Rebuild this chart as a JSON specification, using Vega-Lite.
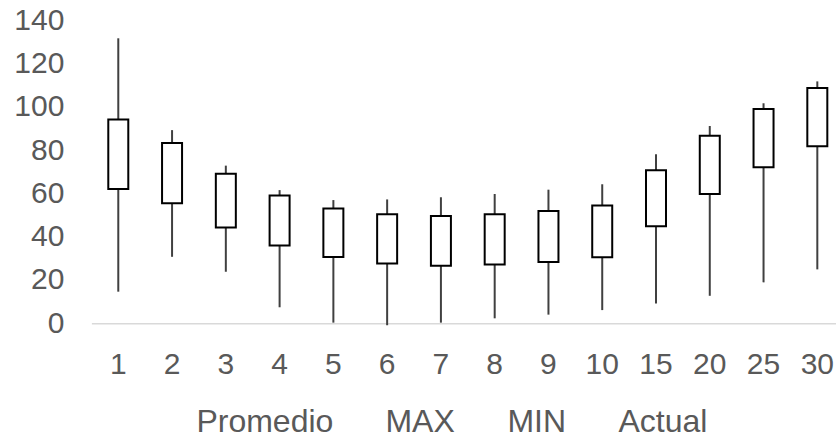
{
  "$schema": "https://vega.github.io/schema/vega-lite/v6.json",
  "width": 744.6,
  "height": 303.2,
  "autosize": {"type": "none"},
  "padding": {"left": 91.4, "top": 20.1, "right": 0, "bottom": 114.7},
  "config": {
    "view": {"stroke": null},
    "font": "Liberation Sans",
    "axis": {"labelFont": "Liberation Sans", "labelColor": "#595959", "labelFontSize": 30, "title": null, "ticks": false, "grid": false}
  },
  "data": {
    "values": [
      {"k": 1, "Promedio": 62.0, "MAX": 131.6, "MIN": 14.6, "Actual": 94.1},
      {"k": 2, "Promedio": 55.4, "MAX": 89.2, "MIN": 30.7, "Actual": 83.3},
      {"k": 3, "Promedio": 44.2, "MAX": 72.8, "MIN": 23.8, "Actual": 69.0},
      {"k": 4, "Promedio": 35.9, "MAX": 61.5, "MIN": 7.4, "Actual": 59.0},
      {"k": 5, "Promedio": 30.6, "MAX": 56.9, "MIN": 0.3, "Actual": 53.0},
      {"k": 6, "Promedio": 27.6, "MAX": 57.2, "MIN": -0.9, "Actual": 50.3},
      {"k": 7, "Promedio": 26.6, "MAX": 58.2, "MIN": 0.3, "Actual": 49.5},
      {"k": 8, "Promedio": 27.1, "MAX": 59.7, "MIN": 2.3, "Actual": 50.3},
      {"k": 9, "Promedio": 28.3, "MAX": 61.7, "MIN": 4.0, "Actual": 51.9},
      {"k": 10, "Promedio": 30.5, "MAX": 64.2, "MIN": 6.1, "Actual": 54.4},
      {"k": 15, "Promedio": 44.8, "MAX": 78.0, "MIN": 9.2, "Actual": 70.7},
      {"k": 20, "Promedio": 59.7, "MAX": 91.1, "MIN": 12.7, "Actual": 86.6},
      {"k": 25, "Promedio": 72.1, "MAX": 101.6, "MIN": 18.9, "Actual": 99.0},
      {"k": 30, "Promedio": 81.8, "MAX": 111.7, "MIN": 24.9, "Actual": 108.6}
    ]
  },
  "layer": [
    {
      "mark": {"type": "rule", "color": "#404040", "strokeWidth": 2},
      "encoding": {
        "x": {
          "field": "k",
          "type": "ordinal",
          "scale": {"range": [0, 752.8], "paddingInner": 0, "paddingOuter": 0},
          "axis": {"labelAngle": 0, "labelPadding": 26, "domainColor": "#d9d9d9", "domainWidth": 1.5}
        },
        "y": {
          "field": "MIN",
          "type": "quantitative",
          "scale": {"domain": [0, 140], "nice": false},
          "axis": {"values": [0, 20, 40, 60, 80, 100, 120, 140], "domain": false, "labelPadding": 27.5}
        },
        "y2": {"field": "MAX"}
      }
    },
    {
      "mark": {"type": "bar", "fill": "white", "stroke": "black", "strokeWidth": 2, "size": 20},
      "encoding": {
        "x": {"field": "k", "type": "ordinal"},
        "y": {"field": "Promedio", "type": "quantitative"},
        "y2": {"field": "Actual"}
      }
    },
    {
      "transform": [{"fold": ["Promedio", "MAX", "MIN", "Actual"], "as": ["serie", "valor"]}],
      "mark": {"type": "point", "opacity": 0},
      "encoding": {
        "x": {"field": "k", "type": "ordinal"},
        "y": {"field": "valor", "type": "quantitative"},
        "color": {
          "field": "serie",
          "type": "nominal",
          "scale": {"domain": ["Promedio", "MAX", "MIN", "Actual"], "range": ["#404040", "#404040", "#404040", "#404040"]},
          "legend": {
            "orient": "none",
            "legendX": 73,
            "legendY": 386,
            "direction": "horizontal",
            "title": null,
            "padding": 0,
            "labelFont": "Liberation Sans",
            "labelFontSize": 32,
            "labelColor": "#595959",
            "labelOffset": 0,
            "columnPadding": 20,
            "symbolSize": 0,
            "symbolOpacity": 0,
            "symbolStrokeWidth": 0,
            "labelLimit": 300
          }
        }
      }
    }
  ]
}
